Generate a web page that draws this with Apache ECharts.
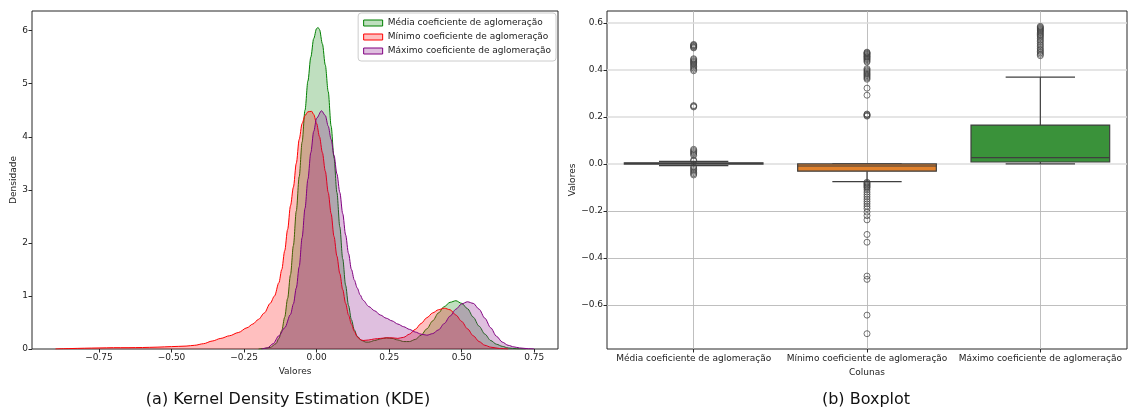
<!DOCTYPE html>
<html><head><meta charset="utf-8">
<script src="https://cdn.jsdelivr.net/npm/echarts@6/dist/echarts.min.js"></script>
<style>html,body{margin:0;padding:0;background:#fff}#c{width:1129px;height:412px}</style>
</head><body><div id="c"></div>
<script>
// ---------- DATA ----------
const seriesNames = ['Média coeficiente de aglomeração', 'Mínimo coeficiente de aglomeração', 'Máximo coeficiente de aglomeração'];

// KDE curves (x, density)
const mediaX = [-0.2,-0.18,-0.16,-0.14,-0.13,-0.12,-0.11,-0.10,-0.09,-0.08,-0.07,-0.06,-0.05,-0.04,-0.03,-0.02,-0.01,0.0,0.005,0.01,0.02,0.03,0.04,0.05,0.06,0.07,0.08,0.09,0.10,0.11,0.12,0.13,0.14,0.155,0.17,0.18,0.20,0.22,0.24,0.26,0.28,0.30,0.32,0.34,0.36,0.38,0.40,0.42,0.44,0.46,0.48,0.50,0.52,0.54,0.56,0.58,0.60,0.62,0.64,0.66,0.69,0.72];
const mediaY = [0,0.01,0.03,0.10,0.2,0.35,0.6,0.95,1.4,1.95,2.6,3.25,3.9,4.5,5.05,5.5,5.85,6.04,6.06,6.02,5.75,5.35,4.85,4.2,3.6,2.95,2.3,1.7,1.2,0.82,0.55,0.36,0.24,0.16,0.13,0.13,0.16,0.19,0.21,0.2,0.17,0.14,0.14,0.18,0.26,0.38,0.53,0.68,0.80,0.88,0.91,0.86,0.76,0.60,0.43,0.28,0.16,0.09,0.05,0.02,0.005,0];

const minimoX = [-0.90,-0.85,-0.80,-0.75,-0.70,-0.65,-0.60,-0.55,-0.50,-0.45,-0.42,-0.39,-0.36,-0.33,-0.30,-0.27,-0.24,-0.22,-0.20,-0.18,-0.16,-0.145,-0.13,-0.12,-0.11,-0.10,-0.09,-0.08,-0.07,-0.06,-0.05,-0.04,-0.03,-0.017,-0.01,0.0,0.01,0.02,0.03,0.04,0.05,0.06,0.07,0.08,0.09,0.10,0.11,0.12,0.13,0.14,0.15,0.16,0.18,0.20,0.22,0.24,0.26,0.28,0.30,0.32,0.34,0.36,0.38,0.40,0.42,0.44,0.46,0.48,0.50,0.52,0.54,0.56,0.58,0.60,0.63,0.66];
const minimoY = [0,0.008,0.015,0.02,0.025,0.025,0.028,0.035,0.045,0.055,0.07,0.1,0.15,0.2,0.25,0.31,0.40,0.47,0.56,0.68,0.86,1.0,1.25,1.5,1.85,2.25,2.7,3.05,3.5,3.95,4.25,4.4,4.47,4.48,4.42,4.25,4.0,3.7,3.35,2.95,2.55,2.12,1.75,1.42,1.12,0.86,0.64,0.47,0.33,0.23,0.18,0.16,0.17,0.19,0.2,0.21,0.21,0.2,0.22,0.28,0.37,0.48,0.59,0.68,0.74,0.77,0.74,0.64,0.52,0.38,0.25,0.14,0.07,0.035,0.01,0];

const maximoX = [-0.19,-0.17,-0.15,-0.13,-0.11,-0.09,-0.08,-0.07,-0.06,-0.05,-0.04,-0.03,-0.02,-0.01,0.0,0.017,0.03,0.04,0.05,0.06,0.07,0.08,0.09,0.10,0.11,0.12,0.13,0.14,0.15,0.16,0.18,0.20,0.22,0.24,0.26,0.28,0.30,0.32,0.34,0.36,0.38,0.40,0.42,0.44,0.46,0.48,0.50,0.52,0.54,0.56,0.58,0.60,0.62,0.64,0.66,0.68,0.70,0.73,0.75];
const maximoY = [0,0.02,0.1,0.25,0.4,0.65,0.85,1.15,1.55,2.1,2.65,3.2,3.7,4.1,4.35,4.49,4.4,4.2,3.95,3.65,3.3,2.95,2.55,2.15,1.8,1.5,1.3,1.15,1.02,0.92,0.8,0.72,0.64,0.58,0.53,0.47,0.42,0.37,0.32,0.28,0.26,0.29,0.36,0.48,0.62,0.75,0.85,0.89,0.86,0.75,0.58,0.4,0.24,0.13,0.07,0.04,0.02,0.005,0];

// KDE ticks
const kdeXTicks = [-0.75,-0.50,-0.25,0.00,0.25,0.50,0.75];
const kdeYTicks = [0,1,2,3,4,5,6];

// Boxplot stats: [lower whisker, Q1, median, Q3, upper whisker]
const boxMedia  = [-0.007, -0.001, 0.002, 0.004, 0.011];
const boxMinimo = [-0.075, -0.031, -0.009, 0.0, 0.0];
const boxMaximo = [0.0, 0.008, 0.027, 0.165, 0.369];

const outMedia = [0.508,0.505,0.502,0.499,0.496,0.493,0.447,0.443,0.438,0.434,0.43,0.425,0.42,0.414,0.408,0.402,0.396,0.248,0.245,0.242,0.062,0.057,0.052,0.047,0.042,0.036,0.016,0.013,-0.013,-0.018,-0.024,-0.03,-0.036,-0.042,-0.047];
const outMinimo = [0.475,0.472,0.469,0.466,0.462,0.458,0.455,0.451,0.447,0.443,0.438,0.433,0.405,0.40,0.395,0.39,0.385,0.38,0.375,0.37,0.365,0.36,0.322,0.292,0.212,0.209,0.206,0.203,-0.078,-0.082,-0.086,-0.09,-0.094,-0.098,-0.102,-0.11,-0.12,-0.13,-0.14,-0.15,-0.16,-0.17,-0.18,-0.19,-0.205,-0.22,-0.238,-0.30,-0.333,-0.477,-0.491,-0.643,-0.722];
const outMaximo = [0.585,0.581,0.577,0.573,0.569,0.565,0.56,0.555,0.55,0.545,0.54,0.533,0.526,0.52,0.512,0.505,0.498,0.49,0.484,0.478,0.472,0.466,0.46];

const boxYTicks = [-0.6,-0.4,-0.2,0.0,0.2,0.4,0.6];

// ---------- CHART ----------
const FONT = 'DejaVu Sans';
const kdeColors = ['#008000', '#ff0000', '#800080'];
const kdeFills = ['rgba(0,128,0,0.25)', 'rgba(255,0,0,0.25)', 'rgba(128,0,128,0.25)'];
const boxColors = ['#3274a1', '#e1812c', '#3a923a'];
const LINE = '#3f3f3f';
const minus = (s) => s.replace('-', '\u2212');

const kdeData = [[mediaX, mediaY], [minimoX, minimoY], [maximoX, maximoY]];
const boxStats = [boxMedia, boxMinimo, boxMaximo];
const outliers = [outMedia, outMinimo, outMaximo];

const kdeSeries = kdeData.map((d, i) => ({
  type: 'line', name: seriesNames[i], xAxisIndex: 0, yAxisIndex: 0,
  data: d[0].map((x, j) => [x, d[1][j]]),
  showSymbol: false, smooth: 0.3, smoothMonotone: 'x',
  lineStyle: { color: kdeColors[i], width: 1 },
  itemStyle: { color: kdeColors[i] },
  areaStyle: { color: kdeFills[i], opacity: 1 },
  z: 2 + i, silent: true
}));

const outData = [];
outliers.forEach((arr, c) => arr.forEach(v => outData.push([c, v])));

const gridLight = { color: '#dcdcdc', width: 1.6, type: 'solid' };
const gridDark = { color: '#b8b8b8', width: 0.9, type: 'solid' };
const markData = [0, 1, 2].map(c => ({ xAxis: c, lineStyle: gridDark }))
  .concat(boxYTicks.map(v => ({ yAxis: v, lineStyle: v >= 0 ? gridLight : gridDark })));

const tickCommon = (vals) => ({ show: true, length: 3.5, inside: false, lineStyle: { color: '#262626', width: 1 }, customValues: vals });
const nameStyle = { fontFamily: FONT, fontSize: 9, color: '#222' };

const option = {
  animation: false,
  textStyle: { fontFamily: FONT },
  grid: [
    { left: 32, top: 11, width: 526, height: 338, show: true, borderColor: '#262626', borderWidth: 1, backgroundColor: 'transparent' },
    { left: 607, top: 11, width: 520, height: 338, show: true, borderColor: '#262626', borderWidth: 1, backgroundColor: 'transparent' }
  ],
  legend: {
    orient: 'vertical', right: 573, top: 13, selectedMode: false,
    backgroundColor: '#fff', borderColor: '#cccccc', borderWidth: 1, borderRadius: 3,
    padding: [4, 5, 4, 5], itemGap: 2, itemWidth: 19, itemHeight: 6,
    textStyle: { fontFamily: FONT, fontSize: 9, color: '#222', lineHeight: 12 },
    data: seriesNames.map((n, i) => ({ name: n, icon: 'rect', itemStyle: { color: kdeFills[i], borderColor: kdeColors[i], borderWidth: 1 } }))
  },
  xAxis: [
    { type: 'value', gridIndex: 0, min: -0.981, max: 0.832, position: 'bottom',
      name: 'Valores', nameLocation: 'middle', nameGap: 17, nameTextStyle: nameStyle,
      axisLine: { show: false, onZero: false }, splitLine: { show: false },
      axisTick: tickCommon(kdeXTicks),
      axisLabel: { customValues: kdeXTicks, fontSize: 9, color: '#222', margin: 4, formatter: v => minus(v.toFixed(2)) } },
    { type: 'value', gridIndex: 1, min: -0.5, max: 2.5, position: 'bottom',
      name: 'Colunas', nameLocation: 'middle', nameGap: 18, nameTextStyle: nameStyle,
      axisLine: { show: false, onZero: false }, splitLine: { show: false },
      axisTick: tickCommon([0, 1, 2]),
      axisLabel: { customValues: [0, 1, 2], fontSize: 9, color: '#222', margin: 5, formatter: v => seriesNames[Math.round(v)] } }
  ],
  yAxis: [
    { type: 'value', gridIndex: 0, min: 0, max: 6.37, position: 'left',
      name: 'Densidade', nameLocation: 'middle', nameGap: 14, nameRotate: 90, nameTextStyle: nameStyle,
      axisLine: { show: false, onZero: false }, splitLine: { show: false },
      axisTick: tickCommon(kdeYTicks),
      axisLabel: { customValues: kdeYTicks, fontSize: 9, color: '#222', margin: 4, formatter: v => String(v) } },
    { type: 'value', gridIndex: 1, min: -0.787, max: 0.65, position: 'left',
      name: 'Valores', nameLocation: 'middle', nameGap: 30, nameRotate: 90, nameTextStyle: nameStyle,
      axisLine: { show: false, onZero: false }, splitLine: { show: false },
      axisTick: tickCommon(boxYTicks),
      axisLabel: { customValues: boxYTicks, fontSize: 9, color: '#222', margin: 4, formatter: v => minus(v.toFixed(1)) } }
  ],
  series: kdeSeries.concat([
    {
      type: 'custom', xAxisIndex: 1, yAxisIndex: 1, z: 3, silent: true, clip: false,
      data: boxStats.map((s, c) => [c].concat(s)),
      encode: { x: 0, y: [1, 2, 3, 4, 5] },
      renderItem: function (params, api) {
        const c = api.value(0);
        const lw = api.value(1), q1 = api.value(2), md = api.value(3), q3 = api.value(4), hw = api.value(5);
        const tl = api.coord([c - 0.4, q3]);
        const br = api.coord([c + 0.4, q1]);
        const cx = api.coord([c, 0])[0];
        const capL = api.coord([c - 0.2, 0])[0], capR = api.coord([c + 0.2, 0])[0];
        const yLW = api.coord([c, lw])[1], yHW = api.coord([c, hw])[1], yMd = api.coord([c, md])[1];
        const ls = { stroke: LINE, lineWidth: 1.2 };
        return { type: 'group', children: [
          { type: 'line', shape: { x1: cx, y1: tl[1], x2: cx, y2: yHW }, style: ls },
          { type: 'line', shape: { x1: cx, y1: br[1], x2: cx, y2: yLW }, style: ls },
          { type: 'line', shape: { x1: capL, y1: yHW, x2: capR, y2: yHW }, style: ls },
          { type: 'line', shape: { x1: capL, y1: yLW, x2: capR, y2: yLW }, style: ls },
          { type: 'rect', shape: { x: tl[0], y: tl[1], width: br[0] - tl[0], height: Math.max(br[1] - tl[1], 0.5) },
            style: { fill: boxColors[params.dataIndex], stroke: LINE, lineWidth: 1.2 } },
          { type: 'line', shape: { x1: tl[0], y1: yMd, x2: br[0], y2: yMd }, style: ls }
        ] };
      }
    },
    {
      type: 'scatter', xAxisIndex: 1, yAxisIndex: 1, z: 4, silent: true,
      data: outData, symbol: 'circle', symbolSize: 6,
      itemStyle: { color: 'rgba(0,0,0,0)', borderColor: LINE, borderWidth: 0.9 },
      markLine: { silent: true, z: 1, symbol: ['none', 'none'], label: { show: false }, animation: false,
        data: markData }
    }
  ]),
  graphic: [
    { type: 'text', x: 288, y: 400, style: { text: '(a) Kernel Density Estimation (KDE)', font: '16px "DejaVu Sans"', fill: '#111', align: 'center', verticalAlign: 'middle' } },
    { type: 'text', x: 866, y: 400, style: { text: '(b) Boxplot', font: '16px "DejaVu Sans"', fill: '#111', align: 'center', verticalAlign: 'middle' } }
  ]
};

const chart = echarts.init(document.getElementById('c'), null, { renderer: 'canvas' });
chart.setOption(option);
</script>
</body></html>
